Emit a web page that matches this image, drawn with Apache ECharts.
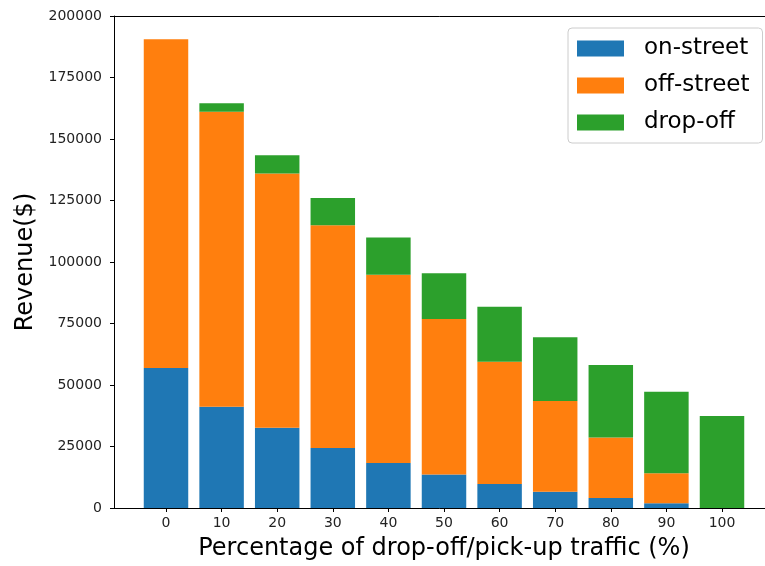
<!DOCTYPE html>
<html><head><meta charset="utf-8">
<script src="https://cdn.jsdelivr.net/npm/echarts@6/dist/echarts.min.js"></script>
<style>html,body{margin:0;padding:0;background:#fff}#c{width:765px;height:566px}</style>
</head><body><div id="c"></div>
<script>
const categories = ['0','10','20','30','40','50','60','70','80','90','100'];
const onStreet  = [56900, 41200, 32600, 24400, 18300, 13600, 9800, 6600, 4100, 1900, 0];
const offStreet = [133600, 119900, 103400, 90500, 76500, 63200, 49700, 36900, 24600, 12200, 0];
const dropOff   = [0, 3400, 7400, 11100, 15200, 18600, 22300, 25900, 29400, 33200, 37400];
const yTicks = [0, 25000, 50000, 75000, 100000, 125000, 150000, 175000, 200000];

const font = 'DejaVu Sans';
const chart = echarts.init(document.getElementById('c'), null, {renderer:'canvas'});
chart.setOption({
  animation:false,
  textStyle:{fontFamily:font},
  grid:[
    {left:114, top:16, right:-9, bottom:58, containLabel:false, outerBoundsMode:'none'},
    {left:138.2, top:16, width:611.6, bottom:58, containLabel:false, outerBoundsMode:'none'}
  ],
  legend:{
    orient:'vertical', left:568, top:28,
    padding:[9,13,9,9], itemWidth:47, itemHeight:16, itemGap:14,
    backgroundColor:'rgba(255,255,255,0.85)', borderColor:'#cccccc', borderWidth:1, borderRadius:4,
    textStyle:{fontFamily:font, fontSize:23, color:'#000', padding:[0,0,0,15]},
    icon:'rect',
    data:['on-street','off-street','drop-off']
  },
  xAxis:[
    {gridIndex:0, type:'value', min:0, max:1, position:'bottom',
     axisLine:{show:true, lineStyle:{color:'#000', width:1}}, axisTick:{show:false}, axisLabel:{show:false}, splitLine:{show:false},
     name:'Percentage of drop-off/pick-up traffic (%)', nameLocation:'middle', nameGap:29,
     nameTextStyle:{fontFamily:font, fontSize:24, color:'#000'}},
    {gridIndex:0, type:'value', min:0, max:1, position:'top',
     axisLine:{show:true, lineStyle:{color:'#000', width:1}}, axisTick:{show:false}, axisLabel:{show:false}, splitLine:{show:false}},
    {gridIndex:1, type:'category', data:categories, boundaryGap:true,
     axisLine:{show:false}, axisTick:{show:true, alignWithLabel:true, length:4, lineStyle:{color:'#000'}},
     axisLabel:{fontFamily:font, fontSize:14, color:'#222', margin:8}, splitLine:{show:false}}
  ],
  yAxis:[
    {gridIndex:0, type:'value', min:yTicks[0], max:yTicks[yTicks.length-1], interval:yTicks[1]-yTicks[0],
     axisLine:{show:true, lineStyle:{color:'#000', width:1}}, axisTick:{show:true, length:4, lineStyle:{color:'#000'}},
     axisLabel:{fontFamily:font, fontSize:14, color:'#222', margin:12, formatter:(v)=>String(v)}, splitLine:{show:false},
     name:'Revenue($)', nameLocation:'middle', nameGap:71, nameRotate:90,
     nameTextStyle:{fontFamily:font, fontSize:24, color:'#000'}},
    {gridIndex:1, type:'value', min:yTicks[0], max:yTicks[yTicks.length-1], show:false}
  ],
  series:[
    {name:'on-street', type:'bar', xAxisIndex:2, yAxisIndex:1, stack:'a', barWidth:'80%', data:onStreet, itemStyle:{color:'#1f77b4'}},
    {name:'off-street', type:'bar', xAxisIndex:2, yAxisIndex:1, stack:'a', barWidth:'80%', data:offStreet, itemStyle:{color:'#ff7f0e'}},
    {name:'drop-off', type:'bar', xAxisIndex:2, yAxisIndex:1, stack:'a', barWidth:'80%', data:dropOff, itemStyle:{color:'#2ca02c'}}
  ]
});
</script></body></html>
